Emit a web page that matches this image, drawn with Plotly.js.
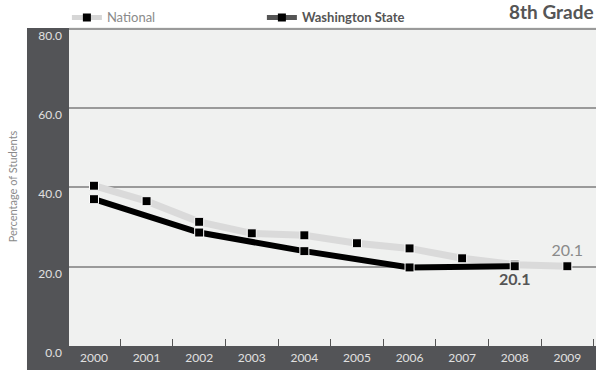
<!DOCTYPE html>
<html>
<head>
<meta charset="utf-8">
<script src="https://cdn.plot.ly/plotly-3.0.1.min.js"></script>
<style>
  html, body { margin: 0; padding: 0; background: #ffffff; }
  #chart { width: 596px; height: 370px; }
</style>
</head>
<body>
<div id="chart"></div>
<script>
// Share of 8th-grade students, national vs. Washington State
const years = ['2000', '2001', '2002', '2003', '2004', '2005', '2006', '2007', '2008', '2009'];
const nationalValues = [40.4, 36.5, 31.3, 28.4, 27.9, 25.9, 24.6, 22.1, 20.5, 20.1];
const waYears = ['2000', '2002', '2004', '2006', '2008'];
const waValues = [37.0, 28.6, 23.9, 19.8, 20.1];
const yTicks = [0, 20, 40, 60, 80];
const yTickLabels = ['0.0', '20.0', '40.0', '60.0', '80.0'];

// only the most recent point of each series carries a value label
const lastLabel = vals => vals.map((v, i) => (i === vals.length - 1 ? v.toFixed(1) : ''));

const FONT = 'Lato, "Open Sans", sans-serif';
const BAND = '#535457';

const traces = [
  {
    x: years, y: nationalValues, type: 'scatter', mode: 'lines+markers+text',
    name: 'National', showlegend: false,
    line: { color: '#dadada', width: 7 },
    marker: { symbol: 'square', size: 9, color: '#000', line: { color: '#ffffff', width: 1 } },
    text: lastLabel(nationalValues), textposition: 'top center',
    textfont: { family: FONT, size: 16, color: '#8a8a8a' },
    cliponaxis: false
  },
  {
    x: waYears, y: waValues, type: 'scatter', mode: 'lines+markers+text',
    name: 'Washington State', showlegend: false,
    line: { color: '#000000', width: 6 },
    marker: { symbol: 'square', size: 9, color: '#000', line: { color: '#ffffff', width: 1 } },
    text: lastLabel(waValues).map(t => (t ? '<b>' + t + '</b>' : '')),
    textposition: 'bottom center',
    textfont: { family: FONT, size: 16, color: '#555555' },
    cliponaxis: false
  },
  // legend entries
  {
    x: [null], y: [null], type: 'scatter', mode: 'lines+markers', name: 'National',
    line: { color: '#d6d6d6', width: 5 },
    marker: { symbol: 'square', size: 8, color: '#000' }
  },
  {
    x: [null], y: [null], type: 'scatter', mode: 'lines+markers',
    name: '<span style="color:#555555"><b>Washington State</b></span>',
    line: { color: '#555555', width: 5 },
    marker: { symbol: 'square', size: 8, color: '#000' }
  }
];

const layout = {
  width: 596, height: 370,
  margin: { l: 69, r: 0, t: 27, b: 24 },
  paper_bgcolor: '#ffffff',
  plot_bgcolor: '#f0f1f0',
  font: { family: FONT, color: '#dddddd', size: 12 },
  showlegend: true,
  legend: {
    orientation: 'h', x: -0.004, xanchor: 'left', y: 1.03, yanchor: 'middle',
    bgcolor: 'rgba(0,0,0,0)', entrywidth: 150, entrywidthmode: 'pixels',
    font: { family: FONT, size: 13, color: '#8a8a8a' },
    itemclick: false
  },
  xaxis: {
    type: 'category', range: [-0.475, 9.545], fixedrange: true,
    showgrid: false, zeroline: false, showline: false,
    ticks: 'inside', tickson: 'boundaries', ticklen: 7, tickwidth: 1, tickcolor: '#555555',
    ticklabelstandoff: 3,
    tickfont: { family: FONT, size: 12, color: '#e0e0e0' }
  },
  yaxis: {
    range: [0, 80.4], fixedrange: true,
    tickvals: yTicks, ticktext: yTickLabels,
    showgrid: true, gridcolor: '#9a9a9a', gridwidth: 2,
    zeroline: false, showline: false, ticks: '',
    ticklabelshift: 7, ticklabelstandoff: 6,
    tickfont: { family: FONT, size: 12, color: '#e0e0e0' },
    title: { text: 'Percentage of Students', standoff: 18, font: { family: FONT, size: 11, color: '#8a8a8a' } }
  },
  shapes: [
    { type: 'rect', xref: 'paper', yref: 'paper', layer: 'below',
      x0: -0.0797, x1: 0, y0: -0.0752, y1: 0.997, fillcolor: BAND, line: { width: 0 } },
    { type: 'rect', xref: 'paper', yref: 'paper', layer: 'below',
      x0: -0.0797, x1: 1, y0: -0.0752, y1: 0, fillcolor: BAND, line: { width: 0 } }
  ],
  annotations: [
    { text: '<b>8th Grade</b>', xref: 'paper', yref: 'paper', x: 1, xanchor: 'right',
      y: 1.05, yanchor: 'middle', showarrow: false,
      font: { family: FONT, size: 19, color: '#555555' } }
  ]
};

Plotly.newPlot('chart', traces, layout, { displayModeBar: false, staticPlot: true });
</script>
</body>
</html>
